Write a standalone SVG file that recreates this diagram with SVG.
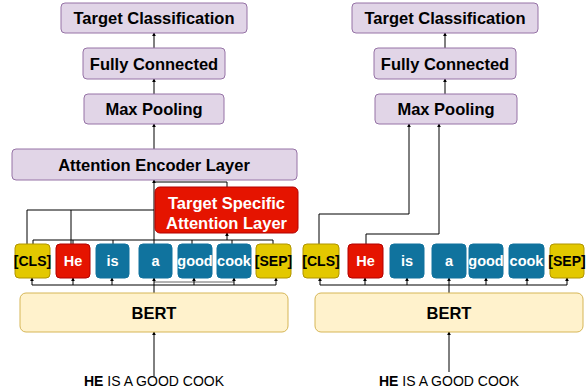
<svg xmlns="http://www.w3.org/2000/svg" width="586" height="392" viewBox="0 0 586 392">
<style>
.pu{fill:#e1d5e7;stroke:#9673a6;stroke-width:1}
.be{fill:#fff2cc;stroke:#d6b656;stroke-width:1}
.ye{fill:#e3c800;stroke:#b09500;stroke-width:1}
.rd{fill:#e51400;stroke:#b20000;stroke-width:1}
.bl{fill:#10739e;stroke:#10739e;stroke-width:1}
text{font-family:"Liberation Sans",Arial,sans-serif;font-weight:bold;text-anchor:middle}
.t16{font-size:16.5px;fill:#000}
.tw{font-size:16.5px;fill:#fff}
.tk{font-size:14.5px;fill:#fff}
.tkb{font-size:14px;fill:#000}
.in{font-size:14px;fill:#000;font-weight:normal}
.c{fill:none;stroke:#000;stroke-width:1}
.g{fill:none;stroke:#666;stroke-width:1}
</style>
<defs>
<marker id="a" viewBox="0 0 6 6" refX="5" refY="3" markerWidth="4" markerHeight="4" orient="auto"><path d="M0,0 L6,3 L0,6 Z" fill="#000"/></marker>
</defs>
<g id="connectors">
<path class="c" d="M154,149 V124" marker-end="url(#a)"/>
<path class="c" d="M154,94 V79" marker-end="url(#a)"/>
<path class="c" d="M154,48 V33" marker-end="url(#a)"/>
<path class="c" d="M154,244 V180" marker-end="url(#a)"/>
<path class="c" d="M227,187 V182 H154"/>
<path class="c" d="M27,244 V210 H154"/>
<path class="c" d="M71,244 V210"/>
<path class="c" d="M33,244 V240 H273 V244 M73,244 V240 M113,244 V240 M192,244 V240 M232,244 V240"/>
<path class="c" d="M227,240 V233" marker-end="url(#a)"/>
<path class="c" d="M154,293 V285 M32,285 H276"/>
<path class="g" d="M154,282 H234"/>
<path class="c" d="M32,285 V278" marker-end="url(#a)"/>
<path class="c" d="M73,285 V278" marker-end="url(#a)"/>
<path class="c" d="M112,285 V278" marker-end="url(#a)"/>
<path class="c" d="M154,285 V278" marker-end="url(#a)"/>
<path class="c" d="M194,285 V278" marker-end="url(#a)"/>
<path class="c" d="M234,285 V278" marker-end="url(#a)"/>
<path class="c" d="M276,285 V278" marker-end="url(#a)"/>
<path class="c" d="M154,376 V332" marker-end="url(#a)"/>
<path class="c" d="M445,94 V79" marker-end="url(#a)"/>
<path class="c" d="M445,48 V33" marker-end="url(#a)"/>
<path class="c" d="M319,244 V214 H409 V124" marker-end="url(#a)"/>
<path class="c" d="M366,244 V234 H439 V124" marker-end="url(#a)"/>
<path class="c" d="M449,293 V285 M320,285 H567"/>
<path class="c" d="M320,285 V278" marker-end="url(#a)"/>
<path class="c" d="M365,285 V278" marker-end="url(#a)"/>
<path class="c" d="M407,285 V278" marker-end="url(#a)"/>
<path class="c" d="M449,285 V278" marker-end="url(#a)"/>
<path class="c" d="M486,285 V278" marker-end="url(#a)"/>
<path class="c" d="M527,285 V278" marker-end="url(#a)"/>
<path class="c" d="M567,285 V278" marker-end="url(#a)"/>
<path class="c" d="M449,372 V332" marker-end="url(#a)"/>
</g>
<g id="l-tc"><rect class="pu" x="61" y="3" width="186" height="30" rx="4"/><text class="t16" x="154" y="24">Target Classification</text></g>
<g id="l-fc"><rect class="pu" x="83" y="48" width="142" height="31" rx="4"/><text class="t16" x="154" y="69.5">Fully Connected</text></g>
<g id="l-mp"><rect class="pu" x="84" y="94" width="140" height="30" rx="4"/><text class="t16" x="154" y="115">Max Pooling</text></g>
<g id="l-ael"><rect class="pu" x="12" y="149" width="285" height="31" rx="4"/><text class="t16" x="154" y="170.5">Attention Encoder Layer</text></g>
<g id="l-tsal"><rect class="rd" x="155" y="187" width="143" height="46" rx="5"/><text class="tw" x="226.5" y="209">Target Specific</text><text class="tw" x="226.5" y="229">Attention Layer</text></g>
<g id="l-cls"><rect class="ye" x="15" y="244" width="35" height="34" rx="4"/><text class="tkb" x="32.5" y="266">[CLS]</text></g>
<g id="l-he"><rect class="rd" x="56" y="244" width="34" height="34" rx="4"/><text class="tk" x="73" y="266">He</text></g>
<g id="l-is"><rect class="bl" x="96" y="244" width="33" height="34" rx="4"/><text class="tk" x="112.5" y="266">is</text></g>
<g id="l-a"><rect class="bl" x="139" y="244" width="33" height="34" rx="4"/><text class="tk" x="155.5" y="266">a</text></g>
<g id="l-good"><rect class="bl" x="178" y="244" width="34" height="34" rx="4"/><text class="tk" x="195" y="266">good</text></g>
<g id="l-cook"><rect class="bl" x="217" y="244" width="34" height="34" rx="4"/><text class="tk" x="234" y="266">cook</text></g>
<g id="l-sep"><rect class="ye" x="256" y="244" width="35" height="34" rx="4"/><text class="tkb" x="273.5" y="266">[SEP]</text></g>
<g id="l-bert"><rect class="be" x="20" y="293" width="268" height="39" rx="6"/><text class="t16" x="154" y="319">BERT</text></g>
<g id="l-input"><text class="in" x="154" y="386"><tspan font-weight="bold">HE</tspan> IS A GOOD COOK</text></g>
<g id="r-tc"><rect class="pu" x="352" y="3" width="186" height="30" rx="4"/><text class="t16" x="445" y="24">Target Classification</text></g>
<g id="r-fc"><rect class="pu" x="374" y="48" width="142" height="31" rx="4"/><text class="t16" x="445" y="69.5">Fully Connected</text></g>
<g id="r-mp"><rect class="pu" x="375" y="94" width="142" height="30" rx="4"/><text class="t16" x="446" y="115">Max Pooling</text></g>
<g id="r-cls"><rect class="ye" x="303" y="244" width="36" height="34" rx="4"/><text class="tkb" x="321" y="266">[CLS]</text></g>
<g id="r-he"><rect class="rd" x="348" y="244" width="35" height="34" rx="4"/><text class="tk" x="365.5" y="266">He</text></g>
<g id="r-is"><rect class="bl" x="390" y="244" width="34" height="34" rx="4"/><text class="tk" x="407" y="266">is</text></g>
<g id="r-a"><rect class="bl" x="432" y="244" width="34" height="34" rx="4"/><text class="tk" x="449" y="266">a</text></g>
<g id="r-good"><rect class="bl" x="469" y="244" width="34" height="34" rx="4"/><text class="tk" x="486" y="266">good</text></g>
<g id="r-cook"><rect class="bl" x="509" y="244" width="35" height="34" rx="4"/><text class="tk" x="526.5" y="266">cook</text></g>
<g id="r-sep"><rect class="ye" x="550" y="244" width="34" height="34" rx="4"/><text class="tkb" x="567" y="266">[SEP]</text></g>
<g id="r-bert"><rect class="be" x="315" y="293" width="268" height="39" rx="6"/><text class="t16" x="449" y="319">BERT</text></g>
<g id="r-input"><text class="in" x="449" y="386"><tspan font-weight="bold">HE</tspan> IS A GOOD COOK</text></g>
</svg>
